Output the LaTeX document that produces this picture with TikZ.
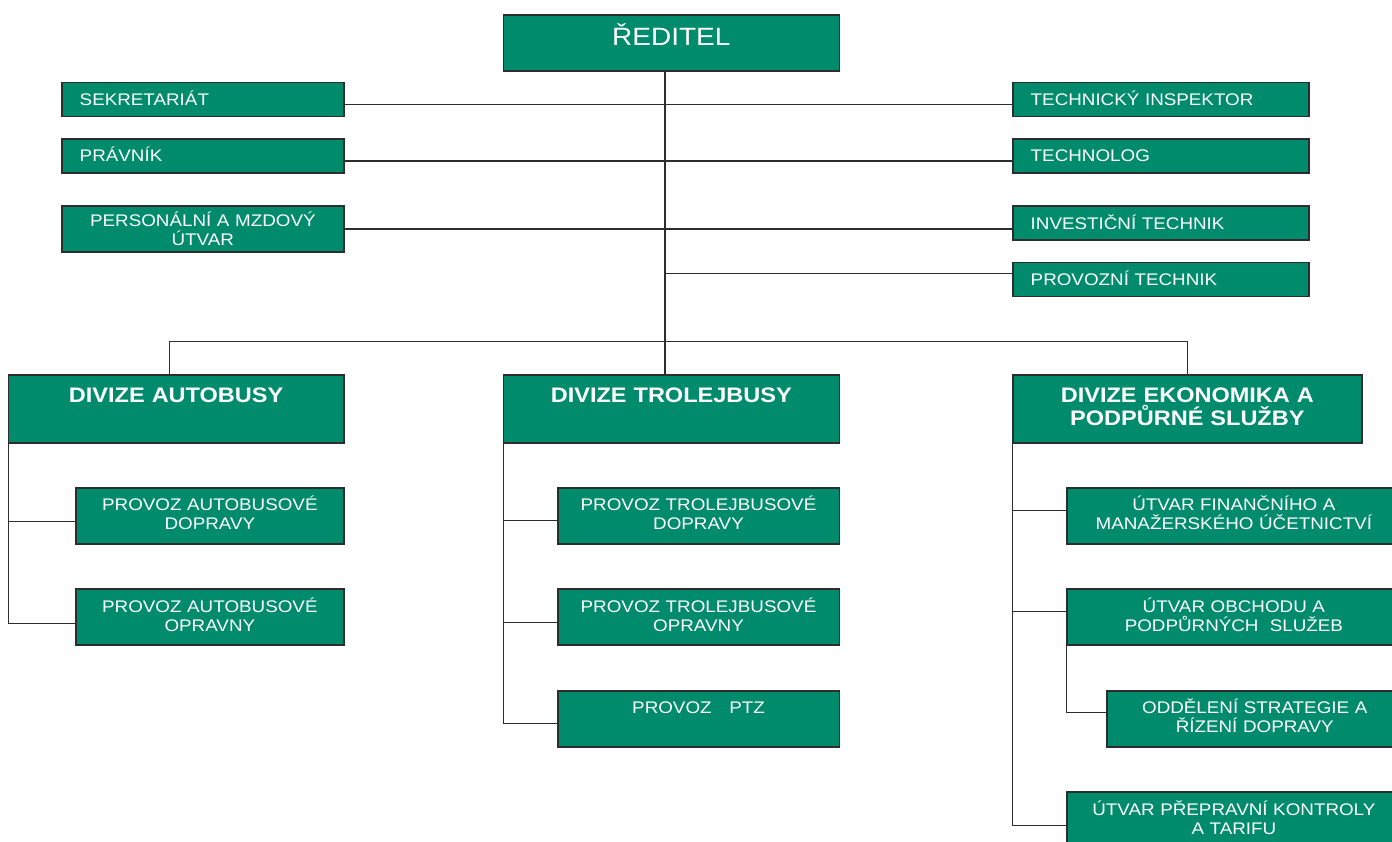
\documentclass[tikz,border=0pt]{standalone}
\usepackage{fontspec}
\setmainfont{Liberation Sans}[FakeStretch=1.12]
\usetikzlibrary{positioning}

\definecolor{dpgreen}{RGB}{0,140,108}
\definecolor{edgegray}{RGB}{45,45,45}
\newcommand{\unitfont}{\fontsize{16.8}{19}\selectfont}
\newcommand{\headfont}{\fontsize{21}{23.3}\selectfont\bfseries}
\newcommand{\topfont}{\fontsize{25}{28}\selectfont}

\tikzset{
  unit/.style={draw=edgegray, line width=1.6pt, fill=dpgreen, text=white, inner sep=0pt,
    outer sep=0pt, anchor=north west, align=center, font=\unitfont},
  director/.style={unit, font=\topfont, text width=336pt, text height=31pt, text depth=25pt},
  staff/.style={unit, align=left, inner xsep=18pt, text width=#1, text height=23pt, text depth=11pt},
  division/.style={unit, font=\headfont, text width=#1, text height=27pt, text depth=41pt},
  section/.style={unit, text width=#1, text height=23pt, text depth=33pt},
  link/.style={draw=edgegray, line width=1.3pt}
}

\begin{document}
\begin{tikzpicture}[x=1pt, y=-1pt, node distance=45.5pt]
        \useasboundingbox (0,0) rectangle (1392,842);
        % top
        \node [director] (dir) at (503.3,15) {ŘEDITEL};
        % staff on the left
        \node [staff=246pt] (sekr) at (61.7,82.7) {SEKRETARIÁT};
        \node [staff=246pt] (prav) at (61.7,139) {PRÁVNÍK};
        \node [unit, text width=282.3pt, text height=21pt, text depth=25pt] (pers) at (61.7,206) {PERSONÁLNÍ A MZDOVÝ\\ÚTVAR};
        % staff on the right
        \node [staff=260pt] (insp) at (1012.7,82.7) {TECHNICKÝ INSPEKTOR};
        \node [staff=260pt] (tech) at (1012.7,139) {TECHNOLOG};
        \node [staff=260pt] (inv) at (1012.7,206.3) {INVESTIČNÍ TECHNIK};
        \node [staff=260pt] (prov) at (1012.7,262.7) {PROVOZNÍ TECHNIK};
        % divisions
        \node [division=335.7pt] (auto) at (8.3,375) {DIVIZE AUTOBUSY};
        \node [division=336pt] (trol) at (503.3,375) {DIVIZE TROLEJBUSY};
        \node [division=349.3pt] (ekon) at (1012.7,375) {DIVIZE EKONOMIKA A\\PODPŮRNÉ SLUŽBY};
        % buses
        \node [section=268.3pt] (pad) at (75.7,487.7) {PROVOZ AUTOBUSOVÉ\\DOPRAVY};
        \node [section=268.3pt, below=of pad.south west, anchor=north west] (pao) {PROVOZ AUTOBUSOVÉ\\OPRAVNY};
        % trolleybuses
        \node [section=281.6pt] (ptd) at (557.7,487.7) {PROVOZ TROLEJBUSOVÉ\\DOPRAVY};
        \node [section=281.6pt, below=of ptd.south west, anchor=north west] (pto) {PROVOZ TROLEJBUSOVÉ\\OPRAVNY};
        \node [section=281.6pt, below=of pto.south west, anchor=north west] (ptz) {PROVOZ\hspace{12pt} PTZ};
        % economy
        \node [section=334.3pt] (ufm) at (1066.7,487.7) {ÚTVAR FINANČNÍHO A\\MANAŽERSKÉHO ÚČETNICTVÍ};
        \node [section=334.3pt, below=of ufm.south west, anchor=north west] (uop) {ÚTVAR OBCHODU A\\PODPŮRNÝCH\ \ SLUŽEB};
        \node [section=296pt] (odd) at (1106.7,690.7) {ODDĚLENÍ STRATEGIE A\\ŘÍZENÍ DOPRAVY};
        \node [section=334.3pt] (upk) at (1066.7,792) {ÚTVAR PŘEPRAVNÍ KONTROLY\\A TARIFU};
        % lines from the director
        \coordinate (bus) at (665,341.3);
        \draw [link] (dir.south -| bus) -- (trol.north -| bus);
        \draw [link] ([yshift=-4.7pt]sekr.east) -- ([yshift=-4.7pt]insp.west);
        \draw [link] ([yshift=-5pt]prav.east) -- ([yshift=-5pt]tech.west);
        \draw [link] (pers.east) -- (pers.east -| inv.west);
        \draw [link] ([yshift=6pt]prov.west) -- ([yshift=6pt]prov.west -| bus);
        \draw [link] ([xshift=-7pt]auto.north) |- (bus) -| (ekon.north);
        % lines inside the divisions
        \draw [link] (auto.south west) |- ([yshift=-6pt]pad.west);
        \draw [link] (auto.south west) |- ([yshift=-6pt]pao.west);
        \draw [link] (trol.south west) |- ([yshift=-5pt]ptd.west);
        \draw [link] (trol.south west) |- ([yshift=-5pt]pto.west);
        \draw [link] (trol.south west) |- ([yshift=-5pt]ptz.west);
        \draw [link] (ekon.south west) |- ([yshift=5.5pt]ufm.west);
        \draw [link] (ekon.south west) |- ([yshift=6pt]uop.west);
        \draw [link] (uop.south west) |- ([yshift=6pt]odd.west);
        \draw [link] (ekon.south west) |- ([yshift=-5.3pt]upk.west);
    \end{tikzpicture}
\end{document}
